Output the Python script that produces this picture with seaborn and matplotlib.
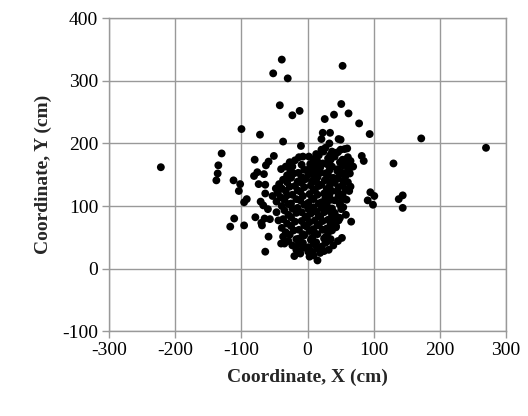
import pandas as pd
import matplotlib.pyplot as plt
import seaborn as sns

# ---------- 1. Data (cm) ----------
# scattered points around the cluster
outer_x = [-39, 53, -52, -30, -42, 51, -12, -23, 62, 40, 26, 78, -100, -72, 94, 172, 270,
           23, 34, 21, -37, 47, 50, 33, -10, 60, 50, -130, -222, -135, -136, -138, -112,
           -102, -104, -92, -96, -111, -117, -96, -80, -51, -59, -63, -76, -81, -66, -74,
           -64, -40, -23, -7, 2, 82, 85, 57, 69, 130, 95, 101, 91, 99, 138, 144, 144, 66,
           -64, -59, -79, -69, -70, -65, -57, -44, -47, -60, -71, -67, -64, -53, -48, -40,
           -35, -20, 3, 15, 52, 46, 39, 32, 43, 47, 58]
outer_y = [334, 324, 312, 304, 261, 263, 252, 245, 248, 246, 239, 232, 223, 214, 215, 208, 193,
           217, 217, 207, 203, 207, 206, 200, 196, 192, 190, 184, 162, 165, 152, 141, 141,
           135, 124, 111, 106, 80, 67, 69, 174, 180, 171, 165, 154, 148, 151, 135,
           134, 159, 163, 179, 179, 180, 172, 174, 163, 168, 122, 116, 109, 102, 111, 117, 97, 75,
           27, 51, 82, 69, 73, 80, 79, 77, 90, 95, 107, 101, 120, 116, 128, 40,
           40, 20, 19, 13, 49, 44, 37, 30, 66, 77, 86]

# dense core of the cloud
core_x = [21, 27, 37, 46, 56, 13, 24, 34, 43,
          -13, 9, 17, 31, 41, 53, 61,
          -27, -19, 4, 15, 23, 35, 49, 57, 65,
          -33, -9, 3, 11, 19, 29, 37, 46, 54, 64,
          -26, -14, -5, 9, 16, 27, 33, 45, 51, 61,
          -31, -21, -9, 1, 11, 19, 31, 39, 49, 57, 64,
          -37, -25, -15, -3, 7, 15, 26, 34, 46, 54,
          -43, -31, -19, -9, 5, 13, 21, 33, 41, 53, 61,
          -39, -27, -15, -5, 9, 17, 29, 37, 47, 58, 65,
          -45, -33, -23, -11, 3, 11, 25, 33, 45, 53, 63,
          -41, -31, -17, -7, 7, 15, 27, 35, 47, 55,
          -47, -35, -25, -11, 1, 9, 21, 29, 41, 49, 59,
          -39, -29, -15, -5, 9, 17, 29, 37, 49, 54,
          -35, -23, -9, 1, 13, 21, 33, 41, 51,
          -29, -17, -3, 5, 17, 25, 37, 45,
          -37, -25, -9, -1, 11, 19, 31, 39, 49,
          -31, -19, -5, 3, 15, 23, 35, 43,
          -39, -25, -13, -1, 9, 17, 29, 37,
          -33, -21, -7, 3, 11, 23, 31,
          -37, -27, -13, -5, 7, 15, 27, 35,
          -29, -17, -7, 5, 13, 25, 29,
          -23, -13, 1, 9, 21, 27,
          -17, -7, 7, 15, 25,
          -11, 1, 9, 19]
core_y = [190, 193, 187, 186, 191, 183, 187, 181, 185,
          178, 175, 181, 176, 179, 174, 178,
          170, 173, 167, 171, 168, 174, 170, 166, 172,
          163, 166, 160, 164, 161, 167, 163, 159, 165, 161,
          156, 153, 158, 155, 159, 152, 157, 156, 154, 157,
          149, 152, 146, 150, 147, 153, 149, 145, 151, 147, 152,
          142, 145, 139, 143, 140, 146, 141, 138, 144, 140,
          135, 138, 132, 137, 133, 139, 134, 131, 137, 133, 138,
          128, 131, 125, 130, 126, 132, 127, 124, 130, 126, 131,
          121, 124, 118, 123, 119, 125, 120, 117, 123, 119, 124,
          114, 117, 111, 116, 112, 118, 113, 110, 116, 112,
          107, 110, 104, 109, 105, 111, 106, 103, 109, 105, 110,
          100, 103, 97, 102, 98, 104, 99, 96, 102, 98,
          93, 96, 90, 95, 91, 97, 92, 89, 95,
          86, 89, 83, 88, 84, 90, 85, 82,
          79, 82, 76, 81, 77, 83, 78, 75, 81,
          72, 75, 69, 74, 70, 76, 71, 68,
          65, 68, 62, 67, 63, 69, 64, 61,
          58, 61, 55, 60, 56, 62, 57,
          51, 54, 48, 53, 49, 55, 50, 47,
          44, 47, 41, 46, 42, 48, 43,
          37, 40, 34, 39, 35, 41,
          30, 33, 27, 32, 28,
          24, 27, 21, 25]

df = pd.DataFrame({
    "x": outer_x + core_x,
    "y": outer_y + core_y,
})

# ---------- 2. Plot ----------
sns.set_style("white")
plt.rcParams["font.family"] = ["Liberation Serif", "DejaVu Serif"]
plt.rcParams["axes.unicode_minus"] = False

fig = plt.figure(figsize=(5.28, 4.16), dpi=100)
ax = fig.add_axes([0.207, 0.204, 0.751, 0.752])

sns.scatterplot(data=df, x="x", y="y", ax=ax, color="black", s=32,
                edgecolor="none", zorder=3)

ax.set_xlim(-300, 300)
ax.set_ylim(-100, 400)
ax.set_xticks(range(-300, 301, 100))
ax.set_yticks(range(-100, 401, 100))
ax.grid(True, color="#999999", linewidth=1)
ax.set_axisbelow(True)
for sp in ax.spines.values():
    sp.set_color("#999999")
    sp.set_linewidth(1)
ax.tick_params(axis="both", direction="out", length=5, width=1, color="#999999",
               labelsize=14, labelcolor="black", pad=3, bottom=True, left=True)

ax.set_xlabel("Coordinate, X (cm)", fontsize=14, fontweight="bold", labelpad=7)
ax.set_ylabel("Coordinate, Y (cm)", fontsize=14, fontweight="bold", labelpad=7)

fig.savefig("out.png", dpi=100)
